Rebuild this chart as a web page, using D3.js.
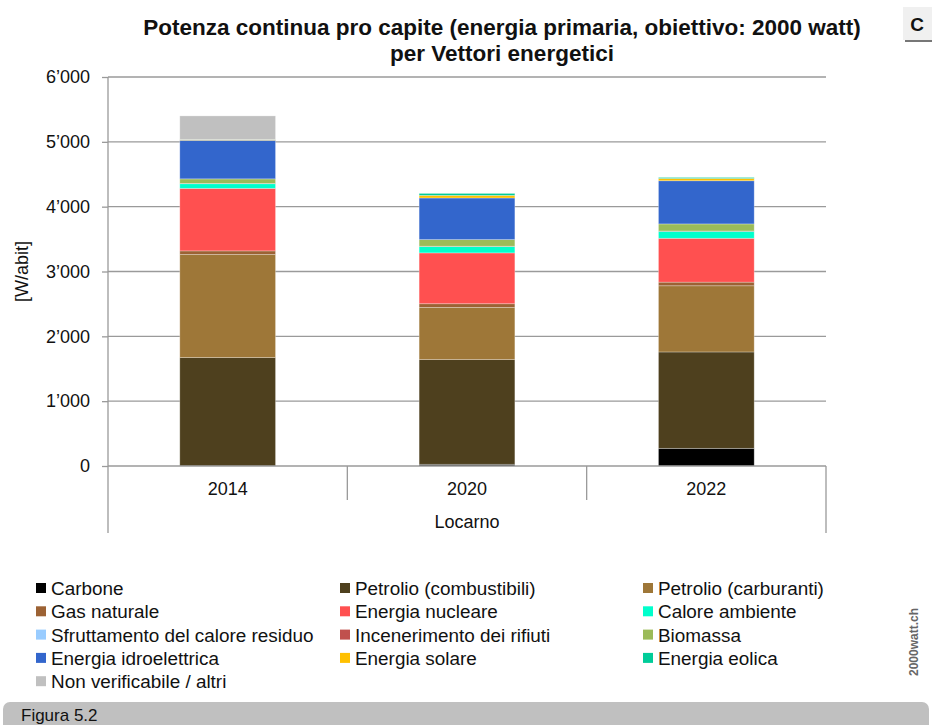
<!DOCTYPE html>
<html>
<head>
<meta charset="utf-8">
<script src="https://cdn.jsdelivr.net/npm/d3@7"></script>
<style>
  html, body { margin: 0; padding: 0; background: #fff; }
  svg { display: block; font-family: "Liberation Sans", Arial, sans-serif; }
</style>
</head>
<body>
<svg id="chart" width="932" height="725"></svg>
<script>
// Years shown on the category axis
const years = ["2014", "2020", "2022"];
const region = "Locarno";

// Energy carriers, bottom to top of each stack
const carriers = [
  "Carbone", "Petrolio (combustibili)", "Petrolio (carburanti)",
  "Gas naturale", "Energia nucleare", "Calore ambiente",
  "Sfruttamento del calore residuo", "Incenerimento dei rifiuti", "Biomassa",
  "Energia idroelettrica", "Energia solare", "Energia eolica",
  "Non verificabile / altri"
];
const carrierColors = [
  "#000000", "#4e401e", "#9e7738",
  "#9c6234", "#ff5050", "#00ffcc",
  "#99ccff", "#c0504d", "#9bbb59",
  "#3366cc", "#ffc000", "#00cc99",
  "#c0c0c0"
];

// Continuous power per capita [W/abit], one value per carrier, per year
const values2014 = [0, 1672, 1590, 56, 964, 72, 0, 5, 70, 595, 8, 2, 366];
const values2020 = [26, 1615, 805, 57, 784, 98, 0, 5, 102, 642, 40, 30, 0];
const values2022 = [272, 1487, 1021, 56, 676, 108, 0, 5, 109, 666, 35, 15, 0];

const yTicks = [0, 1000, 2000, 3000, 4000, 5000, 6000];

const titleLines = [
  "Potenza continua pro capite (energia primaria, obiettivo: 2000 watt)",
  "per Vettori energetici"
];
const yAxisTitle = "[W/abit]";

// Build rows for d3.stack
const seriesByYear = [values2014, values2020, values2022];
const rows = years.map((y, i) => {
  const r = { year: y };
  carriers.forEach((c, j) => { r[c] = seriesByYear[i][j]; });
  return r;
});

const svg = d3.select("#chart");
const plot = { left: 108, right: 826, top: 77, bottom: 466 };

const x = d3.scaleBand().domain(years)
  .range([plot.left, plot.right]).paddingInner(0.6).paddingOuter(0.3);
const y = d3.scaleLinear().domain([0, 6000]).range([plot.bottom, plot.top]);

const fmt = v => d3.format(",")(v).replace(/,/g, "\u2019");

// Gridlines
svg.append("g").selectAll("line").data(yTicks.filter(d => d > 0)).join("line")
  .attr("x1", plot.left).attr("x2", plot.right)
  .attr("y1", d => y(d)).attr("y2", d => y(d))
  .attr("stroke", "#9a9a9a").attr("stroke-width", 1.3);

// Stacked bars
const stack = d3.stack().keys(carriers);
const layers = stack(rows);
svg.append("g").selectAll("g").data(layers).join("g")
  .attr("fill", (d, i) => carrierColors[i])
  .selectAll("rect").data(d => d).join("rect")
  .attr("x", d => x(d.data.year))
  .attr("width", x.bandwidth())
  .attr("y", d => y(d[1]))
  .attr("height", d => Math.max(0, y(d[0]) - y(d[1])))
  .attr("stroke", "rgba(255,255,255,0.35)")
  .attr("stroke-width", 0.8);

// Y axis
const yAxis = svg.append("g")
  .attr("transform", `translate(${plot.left},0)`)
  .call(d3.axisLeft(y).tickValues(yTicks).tickFormat(fmt).tickSize(6).tickPadding(12));
yAxis.select(".domain").attr("stroke", "#9a9a9a").attr("stroke-width", 1.3)
  .attr("d", `M0,${plot.top}V${plot.bottom}`);
yAxis.selectAll(".tick line").attr("stroke", "#9a9a9a").attr("stroke-width", 1.3);
yAxis.selectAll(".tick text").attr("fill", "#111").style("font-size", "18px")
  .attr("font-family", "Liberation Sans, Arial, sans-serif");

// X axis baseline and category separators
const axisG = svg.append("g").attr("stroke", "#9a9a9a").attr("stroke-width", 1.3);
axisG.append("line").attr("x1", plot.left).attr("x2", plot.right)
  .attr("y1", plot.bottom).attr("y2", plot.bottom);
const bounds = [plot.left].concat(years.map(yr => x(yr) + x.bandwidth() + x.step() * x.paddingInner() / 2));
bounds[bounds.length - 1] = plot.right;
axisG.selectAll("line.sep").data(bounds).join("line").attr("class", "sep")
  .attr("x1", d => d).attr("x2", d => d)
  .attr("y1", plot.bottom)
  .attr("y2", (d, i) => (i === 0 || i === bounds.length - 1) ? 533 : 500);

// Category labels
svg.append("g").selectAll("text").data(years).join("text")
  .attr("x", d => x(d) + x.bandwidth() / 2).attr("y", 495)
  .attr("text-anchor", "middle").attr("font-size", 18).attr("fill", "#111")
  .text(d => d);
svg.append("text").attr("x", (plot.left + plot.right) / 2).attr("y", 528)
  .attr("text-anchor", "middle").attr("font-size", 18).attr("fill", "#111")
  .text(region);

// Y axis title
svg.append("text")
  .attr("transform", `translate(28,${(plot.top + plot.bottom) / 2}) rotate(-90)`)
  .attr("text-anchor", "middle").attr("font-size", 18).attr("fill", "#111")
  .text(yAxisTitle);

// Title
svg.append("g").selectAll("text").data(titleLines).join("text")
  .attr("x", 502).attr("y", (d, i) => 35 + i * 26)
  .attr("text-anchor", "middle").attr("font-size", 22.5).attr("font-weight", "bold")
  .attr("fill", "#111").text(d => d);

// Legend, three columns, row-major order
const legCols = [36, 340, 643];
const legG = svg.append("g");
carriers.forEach((c, i) => {
  const col = i % 3, row = Math.floor(i / 3);
  const gx = legCols[col], gy = 595 + row * 23.3;
  legG.append("rect").attr("x", gx).attr("y", gy - 12).attr("width", 10).attr("height", 10)
    .attr("fill", carrierColors[i]);
  legG.append("text").attr("x", gx + 15).attr("y", gy)
    .attr("font-size", 18.9).attr("fill", "#111").text(c);
});

// Corner badge
const badge = svg.append("g");
badge.append("rect").attr("x", 905).attr("y", 9).attr("width", 30).attr("height", 33).attr("fill", "#777");
badge.append("rect").attr("x", 903).attr("y", 7).attr("width", 30).attr("height", 33).attr("fill", "#f0f0f0");
badge.append("text").attr("x", 917).attr("y", 31).attr("text-anchor", "middle")
  .attr("font-size", 19).attr("font-weight", "bold").attr("fill", "#111").text("C");

// Source mark
svg.append("text")
  .attr("transform", "translate(918,642) rotate(-90)")
  .attr("text-anchor", "middle").attr("font-size", 12).attr("font-weight", "bold")
  .attr("fill", "#666").text("2000watt.ch");

// Figure caption bar
svg.append("rect").attr("x", 3).attr("y", 702).attr("width", 926).attr("height", 40)
  .attr("rx", 7).attr("fill", "#c0c0c0");
svg.append("text").attr("x", 21).attr("y", 721).attr("font-size", 17).attr("fill", "#111")
  .text("Figura 5.2");
</script>
</body>
</html>
